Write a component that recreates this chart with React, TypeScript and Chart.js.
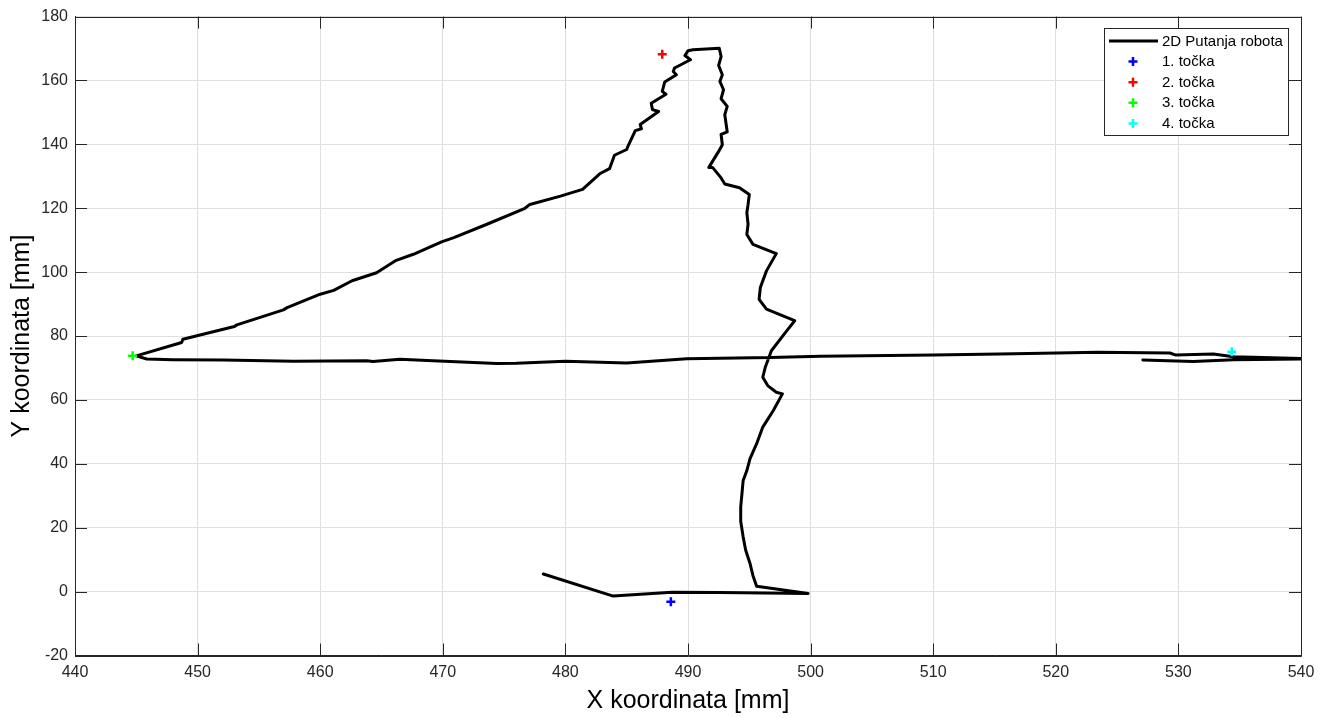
import React, { useEffect, useRef } from "react";
import { Chart, registerables } from "chart.js";

Chart.register(...registerables);

const FONT = "'Liberation Sans', Arial, Helvetica, sans-serif";

// Robot 2D path (mm)
const pathX = [
  478.2, 483.9, 488.7, 492.6, 499.8, 495.6, 495.3, 495.06, 494.7, 494.5,
  494.3, 494.3, 494.4, 494.5, 494.8, 495.06, 495.6, 496.1, 496.96, 497.7,
  497.2, 496.5, 496.1, 496.3, 496.5, 496.8, 498.05, 498.7, 496.4, 495.8,
  495.9, 496.4, 497.2, 495.3, 494.8, 494.9, 494.8, 494.9, 495.0, 494.2,
  493.0, 492.7, 492.0, 491.7, 492.5, 492.8, 492.7, 493.2, 493.0, 493.2,
  492.7, 492.9, 492.6, 492.8, 492.5, 492.7, 492.55,
  490.4, 490.0, 489.75, 490.2, 488.9, 488.8, 489.05, 488.1, 487.9, 488.2,
  487.0, 487.1, 487.6, 486.1, 486.2, 485.7, 485.1, 485.0, 484.0, 483.6,
  482.8, 481.4, 479.6, 477.1, 476.7, 473.6, 470.9, 469.9, 467.6, 466.2,
  464.6, 462.6, 461.1, 460.0, 457.3, 457.0, 453.2, 453.0, 448.8, 448.7,
  445.0, 445.85, 448.0, 452.1, 457.8, 463.8, 464.3, 466.5, 469.2, 474.4,
  476.0, 480.0, 485.0, 489.9, 496.7, 500.8, 510.0, 515.4, 520.1, 523.4,
  529.3, 529.8, 532.85, 534.5, 541.0, 534.5, 531.2, 527.1,
];
const pathY = [
  5.5, -1.4, -0.2, -0.3, -0.6, 1.7, 5.0, 8.8, 13.0, 17.1,
  22.0, 26.5, 30.6, 34.8, 37.9, 41.6, 46.3, 51.5, 56.7, 61.9,
  62.4, 64.5, 67.1, 70.2, 72.3, 75.4, 81.6, 84.8, 88.4, 91.5,
  95.2, 100.4, 105.8, 108.7, 111.8, 115.0, 118.6, 121.2, 124.3, 126.4,
  127.6, 129.5, 132.8, 132.8, 137.8, 139.9, 143.1, 143.9, 149.3, 151.9,
  154.3, 157.1, 159.7, 161.8, 164.7, 167.5, 170.1,
  169.6, 169.3, 167.8, 166.5, 163.9, 162.8, 161.8, 159.5, 156.6, 155.7,
  152.9, 150.9, 150.3, 146.2, 144.9, 144.3, 139.4, 138.4, 136.6, 132.4,
  130.8, 125.9, 123.8, 121.2, 120.0, 115.0, 110.8, 109.5, 105.6, 103.7,
  99.8, 97.3, 94.3, 93.1, 88.9, 88.2, 83.5, 83.0, 79.0, 78.0,
  73.8, 72.8, 72.6, 72.5, 72.1, 72.3, 72.0, 72.7, 72.3, 71.4,
  71.5, 72.1, 71.6, 72.9, 73.3, 73.7, 74.1, 74.4, 74.7, 74.9,
  74.7, 74.05, 74.4, 73.5, 72.9, 72.6, 72.05, 72.5,
];

// Marked points
const markerLabels = ["1. točka", "2. točka", "3. točka", "4. točka"];
const markerX = [488.6, 487.9, 444.7, 534.35];
const markerY = [-3.2, 168.2, 73.8, 75.1];
const markerColors = ["#0000ff", "#ff0000", "#00ff00", "#00ffff"];

const pathLabel = "2D Putanja robota";

const xMin = 440, xMax = 540, xStep = 10;
const yMin = -20, yMax = 180, yStep = 20;

const AXIS_COLOR = "#262626";

const frameTicksPlugin = {
  id: "frameTicks",
  beforeDatasetsDraw(chart: any) {
    const { ctx, chartArea } = chart;
    const { left, right, top, bottom } = chartArea;
    const xs = chart.scales.x;
    const ys = chart.scales.y;
    const tl = 12;
    ctx.save();
    ctx.strokeStyle = AXIS_COLOR;
    ctx.lineWidth = 1;
    ctx.beginPath();
    xs.ticks.forEach((t: any) => {
      const px = Math.round(xs.getPixelForValue(t.value)) + 0.5;
      ctx.moveTo(px, bottom);
      ctx.lineTo(px, bottom - tl);
      ctx.moveTo(px, top);
      ctx.lineTo(px, top + tl);
    });
    ys.ticks.forEach((t: any) => {
      const py = Math.round(ys.getPixelForValue(t.value)) + 0.5;
      ctx.moveTo(left, py);
      ctx.lineTo(left + tl, py);
      ctx.moveTo(right, py);
      ctx.lineTo(right - tl, py);
    });
    ctx.stroke();
    ctx.beginPath();
    ctx.rect(Math.round(left) + 0.5, Math.round(top) + 0.5, Math.round(right) - Math.round(left), Math.round(bottom) - Math.round(top));
    ctx.stroke();
    ctx.restore();
  },
};

const boxLegendPlugin = {
  id: "boxLegend",
  afterDraw(chart: any) {
    const { ctx } = chart;
    const bx = 1104.5, by = 28.5, bw = 184, bh = 107;
    const rowStart = 41, rowStep = 20.6;
    const symX = 1133, textX = 1162;
    ctx.save();
    ctx.fillStyle = "#ffffff";
    ctx.fillRect(bx, by, bw, bh);
    ctx.strokeStyle = AXIS_COLOR;
    ctx.lineWidth = 1;
    ctx.strokeRect(bx, by, bw, bh);
    ctx.font = `15px ${FONT}`;
    ctx.textBaseline = "middle";
    ctx.textAlign = "left";
    chart.data.datasets.forEach((ds: any, i: number) => {
      const cy = rowStart + i * rowStep;
      if (ds.showLine) {
        ctx.strokeStyle = ds.borderColor;
        ctx.lineWidth = 3;
        ctx.beginPath();
        ctx.moveTo(1109, cy);
        ctx.lineTo(1158, cy);
        ctx.stroke();
      } else {
        const r = 4.5;
        ctx.strokeStyle = ds.borderColor;
        ctx.lineWidth = 2.5;
        ctx.beginPath();
        ctx.moveTo(symX - r, cy);
        ctx.lineTo(symX + r, cy);
        ctx.moveTo(symX, cy - r);
        ctx.lineTo(symX, cy + r);
        ctx.stroke();
      }
      ctx.fillStyle = "#000000";
      ctx.fillText(ds.label, textX, cy + 0.5);
    });
    ctx.restore();
  },
};

export default function App() {
  const canvasRef = useRef<HTMLCanvasElement | null>(null);

  useEffect(() => {
    const canvas = canvasRef.current;
    if (!canvas) return;
    const datasets: any[] = [
      {
        label: pathLabel,
        data: pathX.map((x, i) => ({ x, y: pathY[i] })),
        showLine: true,
        borderColor: "#000000",
        backgroundColor: "#000000",
        borderWidth: 3,
        pointRadius: 0,
        pointHoverRadius: 0,
        borderJoinStyle: "round",
        borderCapStyle: "round",
        tension: 0,
        order: 1,
      },
      ...markerLabels.map((label, i) => ({
        label,
        data: [{ x: markerX[i], y: markerY[i] }],
        showLine: false,
        pointStyle: "cross",
        pointRadius: 4.5,
        pointHoverRadius: 4.5,
        borderWidth: 2.5,
        borderColor: markerColors[i],
        backgroundColor: markerColors[i],
        order: 0,
      })),
    ];

    const chart = new Chart(canvas, {
      type: "scatter",
      data: { datasets },
      options: {
        animation: false,
        responsive: false,
        events: [],
        layout: { padding: { top: 15, right: 26, left: 0, bottom: 0 } },
        plugins: {
          legend: { display: false },
          tooltip: { enabled: false },
        },
        scales: {
          x: {
            type: "linear",
            min: xMin,
            max: xMax,
            ticks: {
              stepSize: xStep,
              color: AXIS_COLOR,
              font: { family: FONT, size: 16 },
              padding: 7,
              maxRotation: 0,
            },
            grid: { color: "#dfdfdf", drawTicks: false },
            border: { color: AXIS_COLOR, width: 1 },
            title: {
              display: true,
              text: "X koordinata [mm]",
              color: "#000000",
              font: { family: FONT, size: 25 },
              padding: { top: 0, bottom: 2 },
            },
            afterFit: (s: any) => {
              s.height = 62.5;
            },
          },
          y: {
            type: "linear",
            min: yMin,
            max: yMax,
            ticks: {
              stepSize: yStep,
              color: AXIS_COLOR,
              font: { family: FONT, size: 16 },
              padding: 7,
            },
            grid: { color: "#dfdfdf", drawTicks: false },
            border: { color: AXIS_COLOR, width: 1 },
            title: {
              display: true,
              text: "Y koordinata [mm]",
              color: "#000000",
              font: { family: FONT, size: 25 },
              padding: { top: 7, bottom: 0 },
            },
            afterFit: (s: any) => {
              s.width = 75;
            },
          },
        },
      } as any,
      plugins: [frameTicksPlugin, boxLegendPlugin],
    });

    return () => {
      chart.destroy();
    };
  }, []);

  return (
    <div style={{ position: "fixed", left: 0, top: 0, width: 1327, height: 718, background: "#ffffff" }}>
      <canvas ref={canvasRef} width={1327} height={718} style={{ display: "block" }} />
    </div>
  );
}
